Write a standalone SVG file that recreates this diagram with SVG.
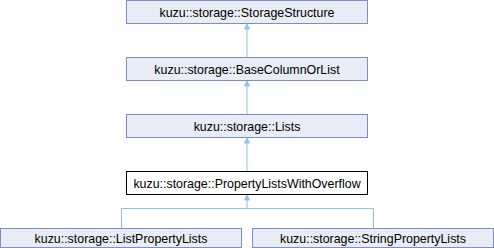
<svg xmlns="http://www.w3.org/2000/svg" width="494" height="248" viewBox="0 0 494 248">
  <style>
    .node rect { fill: #e8ecf5; stroke: #7b8fc6; stroke-width: 1; }
    .node.current rect { fill: #ffffff; stroke: #000000; }
    .node text { font-family: "Liberation Sans", Arial, sans-serif; font-size: 12.4px; fill: #000000; text-anchor: middle; }
    .edge { fill: none; stroke: #8fc3e0; stroke-width: 1; }
    .head { fill: #8fc3e0; stroke: #8fc3e0; stroke-width: 1; }
  </style>
  <rect x="0" y="0" width="494" height="248" fill="#ffffff"/>

  <g id="connectors">
    <path class="edge" d="M247,29 V57"/>
    <polygon class="head" points="247,24 244.5,29 249.5,29"/>
    <path class="edge" d="M247,86 V114"/>
    <polygon class="head" points="247,81 244.5,86 249.5,86"/>
    <path class="edge" d="M247,143 V171"/>
    <polygon class="head" points="247,138 244.5,143 249.5,143"/>
    <path class="edge" d="M247,200 V208.5 M121.5,228 V208.5 H373.5 V228"/>
    <polygon class="head" points="247,195 244.5,200 249.5,200"/>
  </g>

  <g id="node-storage-structure" class="node">
    <rect x="126.5" y="0.5" width="241" height="23"/>
    <text x="247" y="16.5">kuzu::storage::StorageStructure</text>
  </g>
  <g id="node-base-column-or-list" class="node">
    <rect x="126.5" y="57.5" width="241" height="23"/>
    <text x="247" y="73.5">kuzu::storage::BaseColumnOrList</text>
  </g>
  <g id="node-lists" class="node">
    <rect x="126.5" y="114.5" width="241" height="23"/>
    <text x="247" y="130.5">kuzu::storage::Lists</text>
  </g>
  <g id="node-property-lists-with-overflow" class="node current">
    <rect x="126.5" y="171.5" width="241" height="23"/>
    <text x="247" y="187.5">kuzu::storage::PropertyListsWithOverflow</text>
  </g>
  <g id="node-list-property-lists" class="node">
    <rect x="0.5" y="228.5" width="241" height="19"/>
    <text x="121" y="242.5">kuzu::storage::ListPropertyLists</text>
  </g>
  <g id="node-string-property-lists" class="node">
    <rect x="252.5" y="228.5" width="241" height="19"/>
    <text x="373" y="242.5">kuzu::storage::StringPropertyLists</text>
  </g>
</svg>
